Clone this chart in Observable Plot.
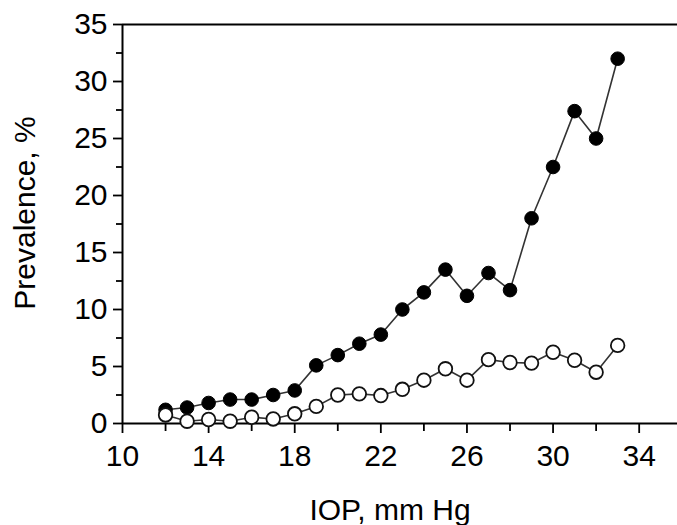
<!DOCTYPE html>
<html>
<head>
<meta charset="utf-8">
<script src="https://cdn.jsdelivr.net/npm/d3@7"></script>
<script src="https://cdn.jsdelivr.net/npm/@observablehq/plot@0.6"></script>
<style>
  html, body { margin: 0; padding: 0; background: #fff; }
</style>
</head>
<body>
<div id="chart"></div>
<script>
const iop = [12, 13, 14, 15, 16, 17, 18, 19, 20, 21, 22, 23, 24, 25, 26, 27, 28, 29, 30, 31, 32, 33];
const filledSeries = [1.2, 1.4, 1.8, 2.1, 2.1, 2.5, 2.9, 5.1, 6.0, 7.0, 7.8, 10.0, 11.5, 13.5, 11.2, 13.2, 11.7, 18.0, 22.5, 27.4, 25.0, 32.0];
const openSeries = [0.75, 0.2, 0.35, 0.2, 0.55, 0.4, 0.85, 1.5, 2.5, 2.6, 2.45, 3.0, 3.8, 4.8, 3.8, 5.6, 5.35, 5.3, 6.25, 5.55, 4.5, 6.85];
const xMajorTicks = [10, 14, 18, 22, 26, 30, 34];
const xMinorTicks = [12, 16, 20, 24, 28, 32];
const yMajorTicks = [0, 5, 10, 15, 20, 25, 30, 35];
const yMinorTicks = [2.5, 7.5, 12.5, 17.5, 22.5, 27.5, 32.5];

const filled = iop.map((x, i) => ({x, y: filledSeries[i]}));
const open = iop.map((x, i) => ({x, y: openSeries[i]}));

const chart = Plot.plot({
  width: 677,
  height: 525,
  marginLeft: 122,
  marginRight: 0,
  marginTop: 24,
  marginBottom: 102,
  style: {fontFamily: "'Liberation Sans', Arial, Helvetica, sans-serif", fontSize: "30px", color: "#000", background: "#fff"},
  x: {domain: [10, 35.78]},
  y: {domain: [0, 35]},
  marks: [
    Plot.axisY({ticks: yMajorTicks, tickSize: 9, tickPadding: 6, strokeWidth: 1.8, label: null, tickFormat: d => String(d)}),
    Plot.axisY({ticks: yMinorTicks, tickSize: 6, text: null, strokeWidth: 1.8, label: null}),
    Plot.axisX({ticks: xMajorTicks, tickSize: 10, tickPadding: 11, strokeWidth: 1.8, label: null, tickFormat: d => String(d)}),
    Plot.axisX({ticks: xMinorTicks, tickSize: 8, text: null, strokeWidth: 1.8, label: null}),
    Plot.ruleX([10], {stroke: "#000", strokeWidth: 2}),
    Plot.ruleY([0], {stroke: "#000", strokeWidth: 2}),
    Plot.ruleY([35], {stroke: "#000", strokeWidth: 2}),
    Plot.line(filled, {x: "x", y: "y", stroke: "#333", strokeWidth: 1.6}),
    Plot.dot(filled, {x: "x", y: "y", r: 6.8, fill: "#000", stroke: "#000", strokeWidth: 1}),
    Plot.line(open, {x: "x", y: "y", stroke: "#333", strokeWidth: 1.6}),
    Plot.dot(open, {x: "x", y: "y", r: 6.8, fill: "#fff", stroke: "#111", strokeWidth: 1.8}),
    Plot.text(["Prevalence, %"], {frameAnchor: "left", text: d => d, rotate: -90, textAnchor: "middle", lineAnchor: "middle", dx: -97, dy: -11, fontSize: 30, fill: "#000"}),
    Plot.text(["IOP, mm Hg"], {frameAnchor: "bottom", text: d => d, textAnchor: "middle", lineAnchor: "middle", dx: -10, dy: 87, fontSize: 30, fill: "#000"})
  ]
});
document.getElementById("chart").appendChild(chart);
</script>
</body>
</html>
